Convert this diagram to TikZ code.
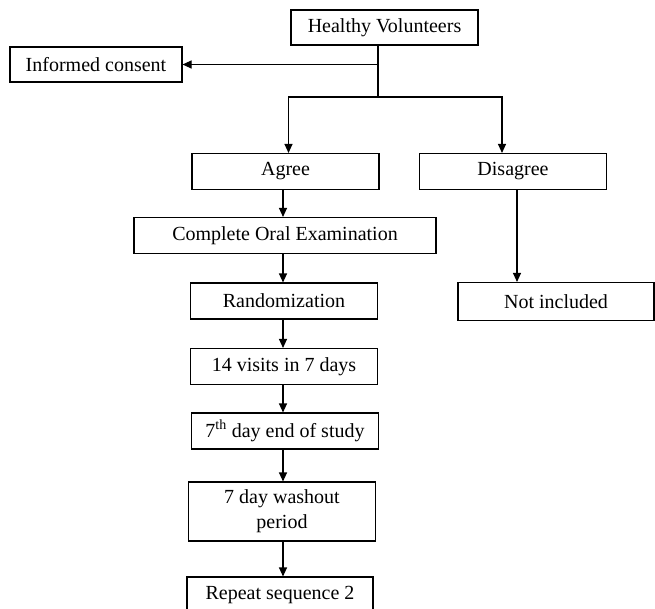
\documentclass[tikz,border=0pt]{standalone}
\usepackage{fontspec}
\setmainfont{Liberation Serif}
\usepackage{tikz}
\usetikzlibrary{positioning,arrows.meta,calc}

\begin{document}
\begin{tikzpicture}[
  x=1pt, y=-1pt,
  font=\fontsize{20}{25}\selectfont,
  box/.style={draw, line width=1.1pt, align=center, minimum height=36pt, minimum width=187pt, inner sep=2pt},
  arr/.style={-{Triangle[length=9pt,width=8pt]}, line width=1.1pt},
  lin/.style={line width=1.1pt}]
  \useasboundingbox (0,0) rectangle (655,608);
  % top
  \node[box, minimum height=35pt] (hv) at (384.5,27.5) {Healthy Volunteers};
  \node[box, minimum width=172pt, minimum height=35pt] (consent) at (96,64.5) {Informed consent};
  % split
  \node[box] (agree) at (285.5,171.5) {Agree};
  \node[box] (disagree) at (513,171.5) {Disagree};
  \node[box, minimum width=196pt, minimum height=38pt] (notinc) at (556,301.5) {Not included};
  % main column
  \node[box, minimum width=302pt] (coe) at (285,235.5) {Complete Oral Examination};
  \node[box] (rand) at (284,301) {Randomization};
  \node[box] (visits) at (284,366.5) {14 visits in 7 days};
  \node[box] (seventh) at (285,431) {7\textsuperscript{th} day end of study};
  \node[box, minimum height=59pt] (washout) at (282,511.5) {7 day washout\\period};
  \node[box, minimum width=186pt] (repeat) at (280,595) {Repeat sequence 2};
  % arrows
  \coordinate (fork) at (378,97);
  \coordinate (col) at (283,0);
  \draw[lin] (fork |- hv.south) -- (fork);
  \draw[arr] (fork |- consent.east) -- (consent.east);
  \draw[arr] (fork) -| ([xshift=3pt]agree.north);
  \draw[arr] (fork) -| ([xshift=-11pt]disagree.north);
  \draw[arr] (col |- agree.south) -- (col |- coe.north);
  \draw[arr] (col |- coe.south) -- (col |- rand.north);
  \draw[arr] ([xshift=4pt]disagree.south) -- ([xshift=4pt]disagree.south |- notinc.north);
  \draw[arr] (col |- rand.south) -- (col |- visits.north);
  \draw[arr] (col |- visits.south) -- (col |- seventh.north);
  \draw[arr] (col |- seventh.south) -- (col |- washout.north);
  \draw[arr] (col |- washout.south) -- (col |- repeat.north);
\end{tikzpicture}
\end{document}
